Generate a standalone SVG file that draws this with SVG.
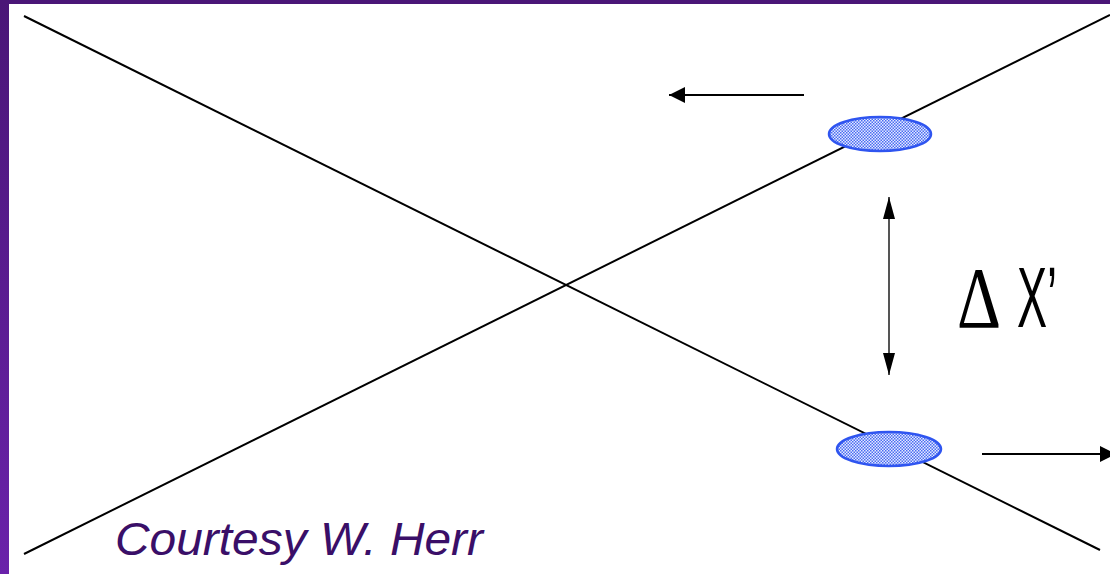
<svg xmlns="http://www.w3.org/2000/svg" width="1110" height="574" viewBox="0 0 1110 574">
<style>
.ln{stroke:#000;stroke-width:2;fill:none}
.bunch{fill:url(#hatch);stroke:#2f55f0;stroke-width:2.5}
.lbl{font-family:"Liberation Sans",Arial,sans-serif}
</style>
<defs>
<linearGradient id="side" x1="0" y1="0" x2="0" y2="1">
<stop offset="0" stop-color="#4a1677"/>
<stop offset="1" stop-color="#6a22aa"/>
</linearGradient>
<pattern id="hatch" width="3" height="3" patternUnits="userSpaceOnUse">
<rect width="3" height="3" fill="#e4eaff"/>
<rect width="1.5" height="1.5" fill="#4a6cf2"/>
<rect x="1.5" y="1.5" width="1.5" height="1.5" fill="#4a6cf2"/>
</pattern>
<marker id="ah" viewBox="0 0 16 16" refX="16" refY="8" markerWidth="16" markerHeight="16" markerUnits="userSpaceOnUse" orient="auto-start-reverse">
<path d="M0,0 L16,8 L0,16 Z" fill="#000"/>
</marker>
<marker id="ahv" viewBox="0 0 22 12" refX="22" refY="6" markerWidth="22" markerHeight="12" markerUnits="userSpaceOnUse" orient="auto-start-reverse">
<path d="M0,0 L22,6 L0,12 Z" fill="#000"/>
</marker>
</defs>
<rect width="1110" height="574" fill="#fff"/>
<rect x="0" y="0" width="9" height="574" fill="url(#side)"/>
<rect x="0" y="0" width="1110" height="4" fill="#4a1677"/>
<g id="connectors">
<line class="ln" x1="24" y1="16" x2="1100" y2="550"/>
<line class="ln" x1="24" y1="554" x2="1110" y2="15"/>
<line class="ln" x1="804" y1="95" x2="669" y2="95" marker-end="url(#ah)"/>
<line class="ln" x1="982" y1="454" x2="1116" y2="454" marker-end="url(#ah)"/>
<line stroke="#555" stroke-width="2" x1="889" y1="197" x2="889" y2="375" marker-start="url(#ahv)" marker-end="url(#ahv)"/>
</g>
<g id="bunch-top"><ellipse class="bunch" cx="880" cy="134" rx="51" ry="17"/></g>
<g id="bunch-bottom"><ellipse class="bunch" cx="889" cy="449" rx="52" ry="17"/></g>
<g id="label-dx">
<text x="957" y="327" font-family="Liberation Serif,serif" font-size="86" textLength="44" lengthAdjust="spacingAndGlyphs" fill="#000">Δ</text>
<text class="lbl" x="1017" y="327" font-size="86" textLength="40" lengthAdjust="spacingAndGlyphs" fill="#000">X’</text>
</g>
<g id="credit"><text class="lbl" x="115" y="555" font-size="46" font-style="italic" fill="#3a0f68" textLength="368" lengthAdjust="spacingAndGlyphs">Courtesy W. Herr</text></g>
</svg>
